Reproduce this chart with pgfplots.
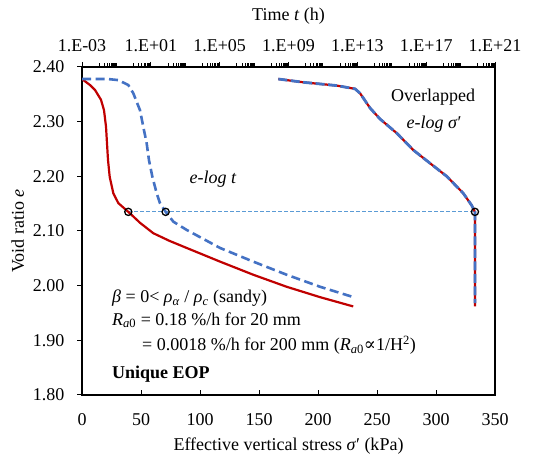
\documentclass[border=0pt]{standalone}
\usepackage{pgfplots}
\pgfplotsset{compat=1.18}
\usepackage{fontspec}
\setmainfont{Liberation Serif}
\newfontfamily\dejavu{DejaVu Serif}
\definecolor{cred}{HTML}{C00000}
\definecolor{cblue}{HTML}{4472C4}
\definecolor{clight}{HTML}{5B9BD5}
\newcommand\fs{\fontsize{18bp}{21bp}\selectfont}
\begin{document}
\begin{tikzpicture}[x=1bp,y=1bp]
\useasboundingbox (0,0) rectangle (536,459);
\def\mylist{}
\foreach \j in {-2,0,...,20}{\foreach \k in {1,...,9}{\xdef\mylist{\mylist\k e\j,}}}
% ---------------- bottom axis: stress ----------------
\begin{axis}[
  at={(82bp,64bp)}, anchor=south west, scale only axis,
  width=413bp, height=328bp,
  xmin=0, xmax=350, ymin=1.8, ymax=2.4,
  xtick={0,50,...,350}, ytick={1.8,1.9,...,2.4},
  xtick pos=bottom, ytick pos=left,
  tick align=inside, major tick length=5bp,
  y tick style={xshift=-5bp},
  tick style={black, line width=1bp},
  axis line style={black, line width=1.2bp},
  /pgf/number format/assume math mode=true,
  tick label style={font=\fs},
  yticklabel style={xshift=-14bp, /pgf/number format/.cd, fixed, fixed zerofill, precision=2},
  xticklabel style={yshift=-15bp},
  label style={font=\fs},
  xlabel={Effective vertical stress \textit{σ}′ (kPa)},
  xlabel style={yshift=-5bp},
  ylabel={Void ratio \textit{e}},
  ylabel style={yshift=2bp},
]
% horizontal guide line
\addplot[clight, line width=1bp, dash pattern=on 3.5bp off 2.5bp] coordinates {(39.2,2.135) (333,2.135)};
% overlapped e-log sigma' curve: red solid then blue dashed on top
\addplot[cred, line width=2.2bp] coordinates {
(166.4,2.378) (187.6,2.372) (215.8,2.366) (231.4,2.360) (235.6,2.352) (244.1,2.325)
(252.5,2.305) (266.7,2.279) (280.8,2.248) (294.9,2.224) (309.1,2.200) (323.1,2.169)
(330.2,2.147) (333,2.135) (333,1.962)};
\addplot[cblue, line width=2.8bp, dash pattern=on 9bp off 3.5bp] coordinates {
(166.4,2.378) (187.6,2.372) (215.8,2.366) (231.4,2.360) (235.6,2.352) (244.1,2.325)
(252.5,2.305) (266.7,2.279) (280.8,2.248) (294.9,2.224) (309.1,2.200) (323.1,2.169)
(330.2,2.147) (333,2.135) (333,1.968)};
\addplot[only marks, mark=o, mark size=3.6bp, mark options={black, line width=1.3bp}] coordinates {(333,2.135)};
\node[font=\fs\itshape] at (axis cs:111,2.195) {e-log t};
\node[font=\fs] at (axis cs:297.5,2.345) {Overlapped};
\node[font=\fs] at (axis cs:298.3,2.296) {\textit{e-log σ}′};
\node[font=\fs, anchor=west, inner sep=0pt] at (axis cs:25.4,1.977)
  {\textit{β} = 0< \textit{ρ}\textsubscript{\textit{α}} / \textit{ρ}\textsubscript{\textit{c}} (sandy)};
\node[font=\fs, anchor=west, inner sep=0pt] at (axis cs:25.4,1.937)
  {\textit{R}\textsubscript{\textit{a}0} = 0.18 \%/h for 20 mm};
\node[font=\fs, anchor=west, inner sep=0pt] at (axis cs:50.8,1.891)
  {= 0.0018 \%/h for 200 mm (\textit{R}\textsubscript{\textit{a}0}{\dejavu ∝}1/H\textsuperscript{2})};
\node[font=\fs\bfseries, anchor=west, inner sep=0pt] at (axis cs:25.4,1.838) {Unique EOP};
\end{axis}
% ---------------- top axis: time (log) ----------------
\begin{axis}[
  at={(82bp,64bp)}, anchor=south west, scale only axis,
  width=413bp, height=328bp,
  xmode=log, xmin=1e-3, xmax=1e21, ymin=1.8, ymax=2.4,
  axis x line*=top, axis y line=none,
  xtick={1e-3,1e1,1e5,1e9,1e13,1e17,1e21},
  xticklabels={1.E-03,1.E+01,1.E+05,1.E+09,1.E+13,1.E+17,1.E+21},
  minor xtick/.expanded={\mylist 1e-1,1e3,1e7,1e11,1e15,1e19},
  tick align=outside, major tick length=5bp, minor tick length=3.5bp,
  tick style={black, line width=0.9bp},
  axis line style={black, line width=1.2bp},
  tick label style={font=\fs},
  xticklabel style={yshift=7bp},
  label style={font=\fs},
  xlabel={Time \textit{t} (h)},
  xlabel style={yshift=8bp},
]
\addplot[cred, line width=2.2bp] coordinates {
(0.001,2.378) (0.002917,2.367) (0.005689,2.358) (0.01271,2.340) (0.01897,2.321)
(0.02483,2.291) (0.02838,2.260) (0.03243,2.230) (0.04074,2.199) (0.06607,2.169)
(0.1288,2.151) (0.4898,2.135) (1.0,2.126) (2.344,2.115) (13.80,2.096) (120,2.082) (1202,2.069)
(104700,2.044) (8.913e6,2.020) (7.762e8,1.998) (6.761e10,1.979) (5.754e12,1.962)};
\addplot[cblue, line width=2.6bp, dash pattern=on 9bp off 4.5bp] coordinates {
(0.001,2.378) (0.0316,2.378) (0.1288,2.376) (0.4898,2.367) (0.955,2.352)
(2.344,2.321) (3.631,2.291) (5.754,2.260) (7.762,2.230) (12.30,2.199)
(21.88,2.169) (33.88,2.151) (72.44,2.135) (204.2,2.117) (1202,2.102)
(104700,2.069) (8.913e6,2.044) (7.762e8,2.020) (6.761e10,1.998) (4.677e12,1.980)};
\addplot[only marks, mark=o, mark size=3.6bp, mark options={black, line width=1.3bp}] coordinates {(0.4898,2.135) (72.44,2.135)};
\end{axis}
\end{tikzpicture}
\end{document}
